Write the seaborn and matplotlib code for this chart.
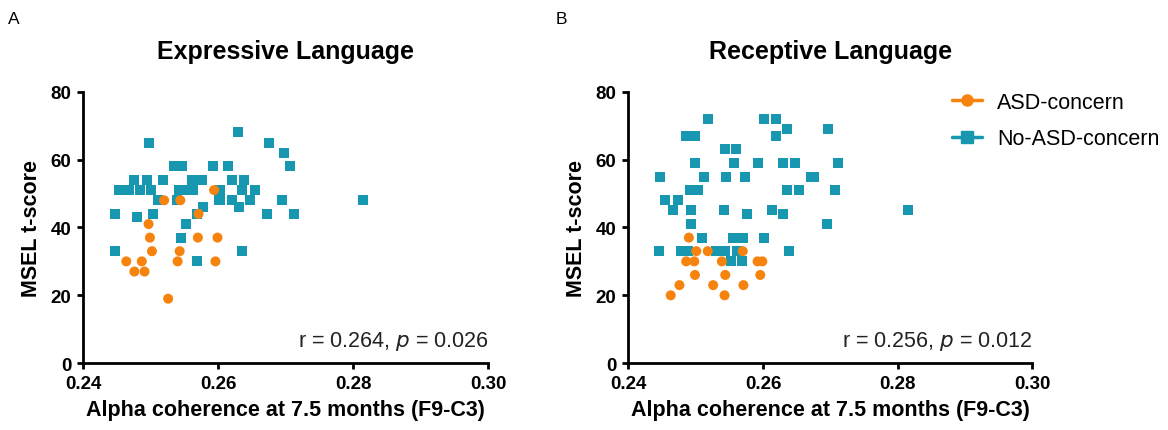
import matplotlib
matplotlib.use('Agg')
import matplotlib.pyplot as plt
from matplotlib.lines import Line2D
import pandas as pd
import seaborn as sns

GROUPS = ['No-ASD-concern', 'ASD-concern']
COLORS = {'ASD-concern': '#F7830F', 'No-ASD-concern': '#1797B0'}
MARKERS = {'ASD-concern': 'o', 'No-ASD-concern': 's'}

# Panel A - Expressive Language
expr_noasd_x = [0.2498, 0.2630, 0.2676, 0.2698, 0.2707, 0.2534, 0.2546, 0.2593, 0.2614,
                0.2475, 0.2494, 0.2519, 0.2561, 0.2576, 0.2621, 0.2639,
                0.2453, 0.2468, 0.2485, 0.2500, 0.2542, 0.2553, 0.2563, 0.2603, 0.2636, 0.2654,
                0.2511, 0.2539, 0.2602, 0.2621, 0.2647, 0.2695, 0.2815,
                0.2578, 0.2631, 0.2447, 0.2504, 0.2568, 0.2673, 0.2712, 0.2480,
                0.2553, 0.2545, 0.2447, 0.2636, 0.2569]
expr_noasd_y = [65, 68, 65, 62, 58, 58, 58, 58, 58,
                54, 54, 54, 54, 54, 54, 54,
                51, 51, 51, 51, 51, 51, 51, 51, 51, 51,
                48, 48, 48, 48, 48, 48, 48,
                46, 46, 44, 44, 44, 44, 44, 43,
                41, 37, 33, 33, 30]
expr_asd_x = [0.2520, 0.2544, 0.2594, 0.2571, 0.2497, 0.2499, 0.2570, 0.2599, 0.2502,
              0.2543, 0.2464, 0.2487, 0.2540, 0.2596, 0.2476, 0.2491, 0.2526]
expr_asd_y = [48, 48, 51, 44, 41, 37, 37, 37, 33, 33, 30, 30, 30, 30, 27, 27, 19]

# Panel B - Receptive Language
rec_noasd_x = [0.2518, 0.2601, 0.2620, 0.2635, 0.2697, 0.2485, 0.2499, 0.2620, 0.2544, 0.2560,
               0.2499, 0.2557, 0.2593, 0.2629, 0.2647, 0.2711,
               0.2447, 0.2513, 0.2545, 0.2574, 0.2671, 0.2676,
               0.2492, 0.2504, 0.2635, 0.2653, 0.2707, 0.2454, 0.2474,
               0.2466, 0.2493, 0.2542, 0.2614, 0.2816, 0.2577, 0.2630, 0.2493, 0.2695,
               0.2510, 0.2555, 0.2562, 0.2570, 0.2602,
               0.2446, 0.2478, 0.2489, 0.2531, 0.2543, 0.2561, 0.2639, 0.2552, 0.2569]
rec_noasd_y = [72, 72, 72, 69, 69, 67, 67, 67, 63, 63,
               59, 59, 59, 59, 59, 59,
               55, 55, 55, 55, 55, 55,
               51, 51, 51, 51, 51, 48, 48,
               45, 45, 45, 45, 45, 44, 44, 41, 41,
               37, 37, 37, 37, 37,
               33, 33, 33, 33, 33, 33, 33, 30, 30]
rec_asd_x = [0.2490, 0.2501, 0.2518, 0.2570, 0.2486, 0.2498, 0.2539, 0.2592, 0.2599,
             0.2499, 0.2544, 0.2596, 0.2476, 0.2526, 0.2571, 0.2463, 0.2543]
rec_asd_y = [37, 33, 33, 33, 30, 30, 30, 30, 30, 26, 26, 26, 23, 23, 23, 20, 20]

TITLES = ['Expressive Language', 'Receptive Language']
PANEL_LETTERS = ['A', 'B']
STATS = [('0.264', '0.026'), ('0.256', '0.012')]
X_TICKS = [0.24, 0.26, 0.28, 0.30]
X_TICK_LABELS = ['0.24', '0.26', '0.28', '0.30']
Y_TICKS = [0, 20, 40, 60, 80]


def make_df(noasd_x, noasd_y, asd_x, asd_y):
    df_no = pd.DataFrame({'x': noasd_x, 'y': noasd_y, 'Group': 'No-ASD-concern'})
    df_asd = pd.DataFrame({'x': asd_x, 'y': asd_y, 'Group': 'ASD-concern'})
    return pd.concat([df_no, df_asd], ignore_index=True)


sns.set_theme(style='ticks')
plt.rcParams['font.family'] = ['Liberation Sans', 'DejaVu Sans']
plt.rcParams['text.color'] = 'black'
plt.rcParams['axes.labelcolor'] = 'black'

fig = plt.figure(figsize=(11.68, 4.31), dpi=100)
axes = [fig.add_axes([0.0711, 0.155, 0.347, 0.630]),
        fig.add_axes([0.5379, 0.155, 0.346, 0.630])]
dfs = [make_df(expr_noasd_x, expr_noasd_y, expr_asd_x, expr_asd_y),
       make_df(rec_noasd_x, rec_noasd_y, rec_asd_x, rec_asd_y)]

for ax, df, title, (r, p) in zip(axes, dfs, TITLES, STATS):
    sns.scatterplot(data=df, x='x', y='y', hue='Group', style='Group', hue_order=GROUPS,
                    palette=COLORS, markers=MARKERS, s=52, linewidth=0, legend=False, ax=ax)
    ax.set_xlim(0.24, 0.30)
    ax.set_ylim(0, 80)
    ax.set_xticks(X_TICKS)
    ax.set_xticklabels(X_TICK_LABELS)
    ax.set_yticks(Y_TICKS)
    sns.despine(ax=ax)
    for side in ['left', 'bottom']:
        ax.spines[side].set_linewidth(2)
        ax.spines[side].set_color('black')
    ax.tick_params(axis='both', direction='out', length=4.5, width=2, colors='black',
                   labelsize=13.5, pad=4)
    for lbl in ax.get_xticklabels() + ax.get_yticklabels():
        lbl.set_fontweight('bold')
    ax.set_xlabel('Alpha coherence at 7.5 months (F9-C3)', fontsize=15.5, fontweight='bold', labelpad=5)
    ax.set_ylabel('MSEL t-score', fontsize=15.5, fontweight='bold', labelpad=6)
    ax.set_title(title, fontsize=18, fontweight='bold', pad=24)
    ax.text(1.0, 0.062, f'r = {r}, $\\it{{p}}$ = {p}', transform=ax.transAxes,
            ha='right', va='baseline', fontsize=15.5, color='#222222')

fig.text(8 / 1168, 1 - 19 / 431, PANEL_LETTERS[0], ha='left', va='center', fontsize=12.5)
fig.text(556 / 1168, 1 - 19 / 431, PANEL_LETTERS[1], ha='left', va='center', fontsize=12.5)

handles = [Line2D([0], [0], color=COLORS[g], marker=MARKERS[g], markersize=8, linewidth=2.5)
           for g in ['ASD-concern', 'No-ASD-concern']]
fig.legend(handles, ['ASD-concern', 'No-ASD-concern'], loc='upper left',
           bbox_to_anchor=(952 / 1168, 1 - 93 / 431), frameon=False, fontsize=15.5,
           handlelength=1.4, labelspacing=0.7, handletextpad=0.7,
           borderpad=0, borderaxespad=0)

fig.savefig('out.png', dpi=100)
